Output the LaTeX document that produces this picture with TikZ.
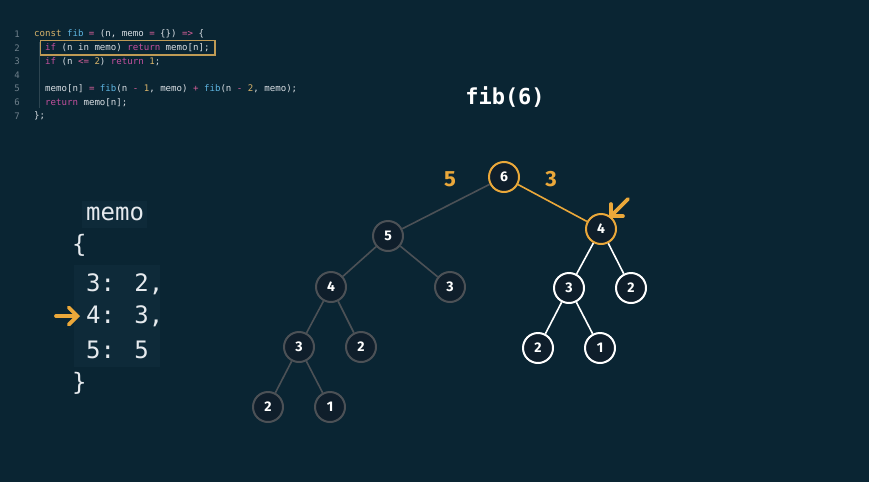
\documentclass[tikz,border=0pt]{standalone}
\usepackage{fontspec}
\setmainfont{Fira Sans}
\newfontfamily\codefont{DejaVu Sans Mono}
\usetikzlibrary{arrows.meta}
\definecolor{bg}{HTML}{0A2533}
\definecolor{panel}{HTML}{0E2A39}
\definecolor{nodefill}{HTML}{0F1E2B}
\definecolor{edgegray}{HTML}{4C5156}
\definecolor{orng}{HTML}{EBA83A}
\definecolor{kwpink}{HTML}{C4509E}
\definecolor{oppink}{HTML}{D9609A}
\definecolor{fnblue}{HTML}{5DB4E0}
\definecolor{numgold}{HTML}{D8B36A}
\definecolor{codewhite}{HTML}{D8DEE3}
\definecolor{memowhite}{HTML}{E6EAEE}
\definecolor{lnum}{HTML}{6E7F8A}
\definecolor{hlbox}{HTML}{BF9B55}
\tikzset{
  fnode/.style={circle, minimum size=30pt, inner sep=0pt, fill=nodefill, line width=2pt, text=white, font=\fontsize{14}{14}\selectfont\bfseries},
  graynode/.style={fnode, draw=edgegray},
  whitenode/.style={fnode, draw=white},
  orangenode/.style={fnode, draw=orng},
  grayedge/.style={draw=edgegray, line width=1.6pt},
  whiteedge/.style={draw=white, line width=1.6pt},
  orangeedge/.style={draw=orng, line width=1.6pt},
  codeline/.style={anchor=west, inner sep=0pt, text=codewhite, font=\codefont\fontsize{9.1}{9.1}\selectfont},
  lnumtext/.style={anchor=center, inner sep=0pt, text=lnum, font=\codefont\fontsize{9}{9}\selectfont},
  memotext/.style={anchor=west, inner sep=0pt, text=memowhite, font=\codefont\fontsize{24}{24}\selectfont},
  edgelabel/.style={text=orng, font=\fontsize{22}{22}\selectfont\bfseries},
  pointer/.style={draw=orng, line width=3.8pt, line cap=round, -{Straight Barb[length=8.5pt,width=17pt,line cap=round]}}
}
\begin{document}
\begin{tikzpicture}[x=1pt,y=-1pt]
\fill[bg] (0,0) rectangle (869,482);
\useasboundingbox (0,0) rectangle (869,482);

% code
\node[lnumtext] (l1) at (17,34) {1};
\node[lnumtext] (l2) at (17,47.7) {2};
\node[lnumtext] (l3) at (17,61.3) {3};
\node[lnumtext] (l4) at (17,75) {4};
\node[lnumtext] (l5) at (17,88.7) {5};
\node[lnumtext] (l6) at (17,102.3) {6};
\node[lnumtext] (l7) at (17,116) {7};
\draw[draw=lnum!35!bg, line width=0.6pt] (39,42) -- (39,108);
\node[codeline] (c1) at (34,34) {\textcolor{numgold}{const} \textcolor{fnblue}{fib} \textcolor{oppink}{=} (n, memo \textcolor{oppink}{=} \{\}) \textcolor{oppink}{=>} \{};
\node[codeline] (c2) at (45,47.7) {\textcolor{kwpink}{if} (n in memo) \textcolor{kwpink}{return} memo[n];};
\draw[draw=hlbox, line width=1.1pt] (40.5,40.5) rectangle (215,55);
\node[codeline] (c3) at (45,61.3) {\textcolor{kwpink}{if} (n \textcolor{oppink}{<=} \textcolor{numgold}{2}) \textcolor{kwpink}{return} \textcolor{numgold}{1};};
\node[codeline] (c5) at (45,88.7) {memo[n] \textcolor{oppink}{=} \textcolor{fnblue}{fib}(n \textcolor{oppink}{-} \textcolor{numgold}{1}, memo) \textcolor{oppink}{+} \textcolor{fnblue}{fib}(n \textcolor{oppink}{-} \textcolor{numgold}{2}, memo);};
\node[codeline] (c6) at (45,102.3) {\textcolor{kwpink}{return} memo[n];};
\node[codeline] (c7) at (34,116) {\};};

% title
\node[text=white, font=\codefont\fontsize{22}{22}\selectfont\bfseries] (title) at (505,97) {fib(6)};

% memo panel
\fill[panel] (82,201) rectangle (147,228);
\fill[panel] (74,265) rectangle (160,367);
\node[memotext] (memo) at (86,214) {memo};
\node[memotext] (ob) at (72,245) {\{};
\node[memotext] (m3) at (86,284) {3: 2,};
\node[memotext] (m4) at (86,316) {4: 3,};
\node[memotext] (m5) at (86,350) {5: 5};
\node[memotext] (cb) at (72,383) {\}};
\coordinate (la) at (56,316);
\coordinate (lb) at (80,316);
\draw[pointer] (la) -- (lb);

% tree
\node[orangenode] (n6) at (504,177) {6};
\node[orangenode] (r4) at (601,229) {4};
\node[graynode] (n5) at (388,236) {5};
\node[graynode] (a4) at (331,287) {4};
\node[graynode] (a3) at (450,287) {3};
\node[graynode] (b3) at (299,347) {3};
\node[graynode] (b2) at (361,347) {2};
\node[graynode] (c2n) at (268,407) {2};
\node[graynode] (c1n) at (330,407) {1};
\node[whitenode] (r3) at (569,288) {3};
\node[whitenode] (r2) at (631,288) {2};
\node[whitenode] (s2) at (538,348) {2};
\node[whitenode] (s1) at (600,348) {1};

\draw[grayedge] (n6) -- (n5);
\draw[orangeedge] (n6) -- (r4);
\draw[grayedge] (n5) -- (a4);
\draw[grayedge] (n5) -- (a3);
\draw[grayedge] (a4) -- (b3);
\draw[grayedge] (a4) -- (b2);
\draw[grayedge] (b3) -- (c2n);
\draw[grayedge] (b3) -- (c1n);
\draw[whiteedge] (r4) -- (r3);
\draw[whiteedge] (r4) -- (r2);
\draw[whiteedge] (r3) -- (s2);
\draw[whiteedge] (r3) -- (s1);

\node[edgelabel] (lab5) at (450,179) {5};
\node[edgelabel] (lab3) at (551,179) {3};

\coordinate (pa) at (628,199);
\coordinate (pb) at (609,218);
\draw[pointer] (pa) -- (pb);
\end{tikzpicture}
\end{document}
